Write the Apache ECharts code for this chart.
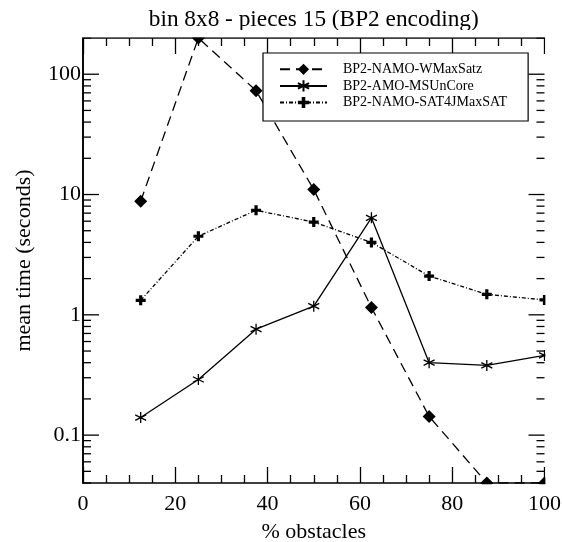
<!DOCTYPE html>
<html>
<head>
<meta charset="utf-8">
<script src="https://cdn.jsdelivr.net/npm/echarts@6/dist/echarts.min.js"></script>
<style>
  html, body { margin: 0; padding: 0; background: #fff; }
  #chart { width: 562px; height: 542px; }
</style>
</head>
<body>
<div id="chart"></div>
<script>
// Percentage of obstacles on the 8x8 bin
const obstacles = [12.5, 25, 37.5, 50, 62.5, 75, 87.5, 100];

// Mean solving time in seconds for each solver
const wmaxsatz = [8.8, 200, 73, 11, 1.15, 0.143, 0.04, 0.04];
const msuncore = [0.14, 0.29, 0.76, 1.18, 6.4, 0.40, 0.38, 0.46];
const sat4j    = [1.32, 4.5, 7.4, 5.9, 4.0, 2.1, 1.48, 1.33];

const seriesNames = ['BP2-NAMO-WMaxSatz', 'BP2-AMO-MSUnCore', 'BP2-NAMO-SAT4JMaxSAT'];

// Log axis range and decade labels
const yMin = 0.04, yMax = 200;
const decadeLabels = ['0.1', '1', '10', '100'];

// Tick marks of the log axis: 1..9 times each power of ten inside the range
const yTicks = [];
[0.01, 0.1, 1, 10, 100].forEach(function (p) {
  for (let k = 1; k <= 9; k++) {
    const v = +(k * p).toPrecision(6);
    if (v >= yMin && v <= yMax) yTicks.push([0, v, k === 1 ? 16 : 8]);
  }
});

const FONT = '"Liberation Serif", "Times New Roman", serif';
const ASTERISK = 'path://M5 0 L5 10 M0.67 2.5 L9.33 7.5 M9.33 2.5 L0.67 7.5';
const PLUS = 'path://M3.4 0 H6.6 V3.4 H10 V6.6 H6.6 V10 H3.4 V6.6 H0 V3.4 H3.4 Z';

const pairs = arr => obstacles.map((x, i) => [x, arr[i]]);

const grid = { left: 83, right: 17.5, top: 38, bottom: 59, outerBoundsMode: 'none', containLabel: false };
const W = 562, H = 542;
const plotBottom = H - grid.bottom, plotRight = W - grid.right;

const frameLine = { show: true, lineStyle: { color: '#000', width: 1.6 } };

const chart = echarts.init(document.getElementById('chart'), null, { renderer: 'canvas' });

chart.setOption({
  backgroundColor: '#fff',
  animation: false,
  textStyle: { fontFamily: FONT, color: '#000' },
  title: {
    text: 'bin 8x8 - pieces 15 (BP2 encoding)',
    left: (grid.left + plotRight) / 2,
    textAlign: 'center',
    top: 8,
    padding: 0,
    textStyle: { fontFamily: FONT, fontSize: 23.3, fontWeight: 'normal', color: '#000' }
  },
  legend: {
    data: seriesNames,
    orient: 'vertical',
    left: 263,
    top: 53,
    itemWidth: 47,
    itemHeight: 14,
    itemGap: 1.5,
    padding: [9.3, 21, 11.5, 16],
    borderColor: '#000',
    borderWidth: 1.2,
    backgroundColor: '#fff',
    textStyle: { fontFamily: FONT, fontSize: 14, color: '#000', padding: [0, 0, 0, 11] }
  },
  grid: grid,
  xAxis: [
    {
      type: 'value', min: 0, max: 100, interval: 20,
      name: '% obstacles', nameLocation: 'middle', nameGap: 38,
      nameTextStyle: { fontFamily: FONT, fontSize: 22, color: '#000' },
      axisLine: frameLine,
      axisTick: { inside: true, length: 16, lineStyle: { color: '#000', width: 1.3 } },
      minorTick: { show: true, splitNumber: 4, length: 8, lineStyle: { color: '#000', width: 1.3 } },
      axisLabel: { fontFamily: FONT, fontSize: 22, color: '#000', margin: 10 },
      splitLine: { show: false }
    },
    {
      type: 'value', min: 0, max: 100, interval: 20, position: 'top',
      axisLine: frameLine,
      axisTick: { inside: true, length: 16, lineStyle: { color: '#000', width: 1.3 } },
      minorTick: { show: true, splitNumber: 4, length: 8, lineStyle: { color: '#000', width: 1.3 } },
      axisLabel: { show: false },
      splitLine: { show: false }
    }
  ],
  yAxis: [
    {
      type: 'log', logBase: 10, min: yMin, max: yMax,
      name: 'mean time (seconds)', nameLocation: 'middle', nameGap: 48,
      nameTextStyle: { fontFamily: FONT, fontSize: 22, color: '#000' },
      axisLine: frameLine,
      axisTick: { show: false },
      axisLabel: {
        fontFamily: FONT, fontSize: 22, color: '#000', margin: 2,
        showMinLabel: false, showMaxLabel: false,
        formatter: function (v) {
          const e = Math.log10(v);
          const r = Math.round(e);
          if (Math.abs(e - r) > 1e-6 || r < -1 || r > 2) return '';
          return decadeLabels[r + 1];
        }
      },
      splitLine: { show: false }
    },
    {
      type: 'log', logBase: 10, min: yMin, max: yMax, position: 'right',
      axisLine: frameLine,
      axisTick: { show: false },
      axisLabel: { show: false },
      splitLine: { show: false }
    }
  ],
  series: [
    {
      name: seriesNames[0], type: 'line', data: pairs(wmaxsatz),
      symbol: 'diamond', symbolSize: 13,
      lineStyle: { color: '#000', width: 1.3, type: [10, 6] },
      itemStyle: { color: '#000' },
      z: 3
    },
    {
      name: seriesNames[1], type: 'line', data: pairs(msuncore),
      symbol: ASTERISK, symbolSize: 11,
      lineStyle: { color: '#000', width: 1.3, type: 'solid' },
      itemStyle: { color: 'none', borderColor: '#000', borderWidth: 1.3 },
      z: 3
    },
    {
      name: seriesNames[2], type: 'line', data: pairs(sat4j),
      symbol: PLUS, symbolSize: 10,
      lineStyle: { color: '#000', width: 1.3, type: [4, 2, 1, 2] },
      itemStyle: { color: '#000' },
      z: 3
    },
    {
      // Decade and sub-decade ticks on the left and right frame of the log axis
      type: 'custom', silent: true, data: yTicks, z: 4,
      renderItem: function (params, api) {
        const y = api.coord([0, api.value(1)])[1];
        const len = api.value(2);
        const cs = params.coordSys;
        const style = { stroke: '#000', lineWidth: 1.3 };
        return {
          type: 'group',
          children: [
            { type: 'line', shape: { x1: cs.x, y1: y, x2: cs.x + len, y2: y }, style: style },
            { type: 'line', shape: { x1: cs.x + cs.width, y1: y, x2: cs.x + cs.width - len, y2: y }, style: style }
          ]
        };
      }
    }
  ],
  // White bands outside the frame so markers sitting on the border are cut by it
  graphic: [
    { type: 'rect', z: 50, silent: true, shape: { x: 40, y: plotBottom + 1.2, width: W - 40, height: 6.5 }, style: { fill: '#fff' } },
    { type: 'rect', z: 50, silent: true, shape: { x: 40, y: 30, width: W - 40, height: grid.top - 0.8 - 30 }, style: { fill: '#fff' } },
    { type: 'rect', z: 50, silent: true, shape: { x: plotRight + 0.9, y: 30, width: W - plotRight, height: plotBottom - 30 + 8 }, style: { fill: '#fff' } }
  ]
});
</script>
</body>
</html>
